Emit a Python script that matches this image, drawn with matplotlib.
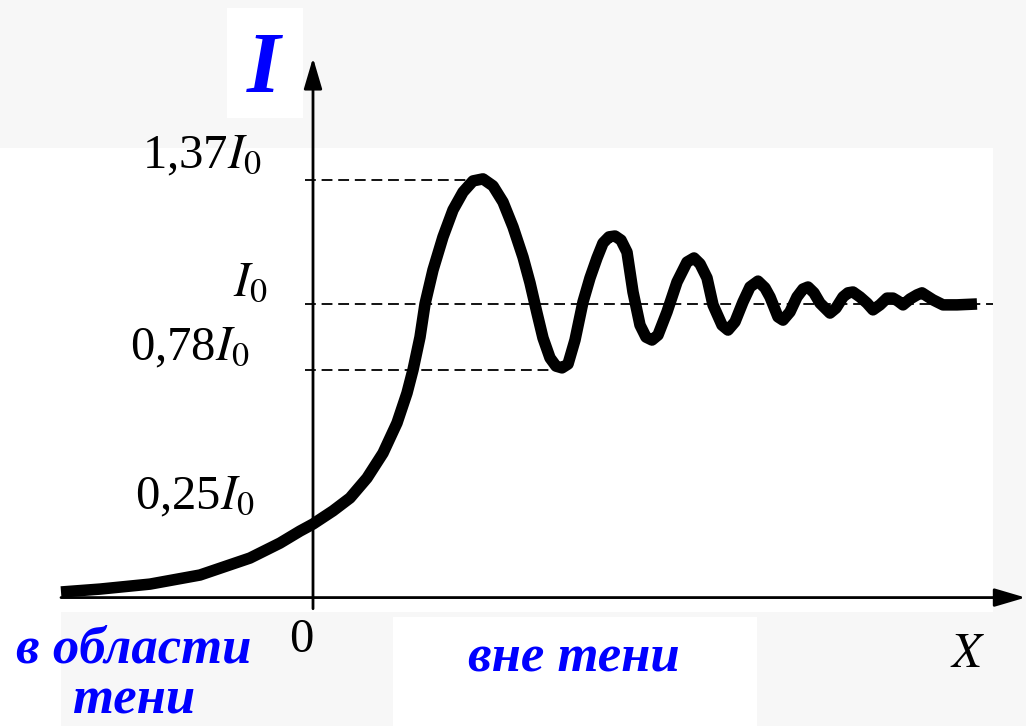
import matplotlib.pyplot as plt
from matplotlib.patches import Rectangle

# intensity behind a straight edge
# x in arbitrary units (0 = edge of geometric shadow), I in units of I0
x = [-2.52, -2.13, -1.63, -1.13, -0.63, -0.33, -0.13, 0.00, 0.20, 0.37, 0.54, 0.70,
     0.84, 0.94, 1.00, 1.07, 1.12, 1.20, 1.30, 1.40, 1.50, 1.60, 1.70, 1.80, 1.90,
     2.00, 2.10, 2.17, 2.24, 2.30, 2.37, 2.43, 2.49, 2.55, 2.62, 2.70, 2.77, 2.84,
     2.90, 2.96, 3.02, 3.08, 3.14, 3.20, 3.27, 3.33, 3.39, 3.45, 3.54, 3.64, 3.74,
     3.81, 3.87, 3.94, 4.00, 4.09, 4.15, 4.22, 4.30, 4.37, 4.45, 4.52, 4.57, 4.65,
     4.70, 4.77, 4.84, 4.90, 4.95, 5.01, 5.07, 5.17, 5.23, 5.30, 5.35, 5.40, 5.47,
     5.54, 5.60, 5.67, 5.74, 5.80, 5.85, 5.90, 5.97, 6.04, 6.09, 6.14, 6.20, 6.30,
     6.44, 6.64]
I = [0.017, 0.027, 0.044, 0.075, 0.133, 0.184, 0.225, 0.249, 0.294, 0.338, 0.406, 0.491,
     0.594, 0.696, 0.775, 0.887, 1.000, 1.116, 1.229, 1.321, 1.382, 1.420, 1.427, 1.403, 1.348,
     1.263, 1.160, 1.072, 0.969, 0.884, 0.816, 0.788, 0.782, 0.795, 0.877, 1.007, 1.089, 1.157,
     1.208, 1.229, 1.232, 1.218, 1.177, 1.041, 0.928, 0.887, 0.877, 0.894, 0.973, 1.075, 1.143,
     1.157, 1.137, 1.089, 0.997, 0.928, 0.911, 0.939, 1.007, 1.058, 1.078, 1.055, 1.024, 0.956,
     0.945, 0.973, 1.024, 1.051, 1.058, 1.038, 1.003, 0.969, 0.986, 1.024, 1.038, 1.041, 1.024,
     1.003, 0.980, 0.997, 1.020, 1.020, 1.010, 0.997, 1.017, 1.031, 1.038, 1.027, 1.014, 0.997,
     0.997, 1.000]

# reference levels: where they sit on the drawing, what they are called
levels = [1.423, 1.000, 0.775]
level_ends = [1.55, 6.80, 2.40]
level_labels = ['1,37', '', '0,78']
low_level, low_label = 0.249, '0,25'

plt.rcParams['font.family'] = ['Liberation Serif', 'DejaVu Serif']
plt.rcParams['mathtext.fontset'] = 'stix'

W, H = 1026, 726
fig = plt.figure(figsize=(W / 100, H / 100), dpi=100, facecolor='#f7f7f7')
ax = fig.add_axes([0, 0, 1, 1])
ax.set_xlim(-3.13, 7.13)
ax.set_ylim(-0.4403, 2.0375)
ax.axis('off')


def box(x0, y0, x1, y1):
    # white panels of the slide, given in pixels from top-left
    ax.add_patch(Rectangle((x0 / W, 1 - y1 / H), (x1 - x0) / W, (y1 - y0) / H,
                           transform=ax.transAxes, facecolor='white', edgecolor='none', zorder=0))


box(0, 148, 993, 612)
box(227, 8, 303, 118)
box(0, 612, 61, 726)
box(393, 617, 757, 726)

# axes with arrows
arrow = dict(arrowstyle='-|>,head_length=0.95,head_width=0.28', mutation_scale=20,
             lw=2, color='black', shrinkA=0, shrinkB=0)
ax.annotate('', xy=(7.125, -0.002), xytext=(-2.52, -0.002), arrowprops=arrow, annotation_clip=False)
ax.annotate('', xy=(0, 1.84), xytext=(0, -0.04), arrowprops=arrow, annotation_clip=False)

# dashed guides
for lev, xe, lab in zip(levels, level_ends, level_labels):
    ax.plot([-0.08, xe], [lev, lev], color='black', lw=1.3, dashes=(6, 3.2), zorder=2)

ax.plot(x, I, color='black', lw=8.3, solid_joinstyle='round', solid_capstyle='butt', zorder=3)

# level labels
fs = 35
ax.text(-0.51, levels[0] + 0.04, level_labels[0] + '$I_0$', fontsize=fs, ha='right', va='baseline')
ax.text(-0.45, levels[1] + 0.03, '$I_0$', fontsize=fs, ha='right', va='baseline')
ax.text(-0.63, levels[2] + 0.033, level_labels[2] + '$I_0$', fontsize=fs, ha='right', va='baseline')
ax.text(-0.58, low_level + 0.05, low_label + '$I_0$', fontsize=fs, ha='right', va='baseline')
ax.text(-0.12, -0.188, '0', fontsize=fs, ha='center', va='baseline')
ax.text(6.55, -0.239, '$X$', fontsize=fs, ha='center', va='baseline')

# blue captions
blue = dict(color='#0000ff', fontweight='bold', fontstyle='italic', fontsize=38)
ax.text(-0.49, 1.725, 'I', ha='center', va='baseline', **dict(blue, fontsize=62))
ax.text(-1.79, -0.222, 'в области', ha='center', va='baseline', **blue)
ax.text(-1.79, -0.396, 'тени', ha='center', va='baseline', **blue)
ax.text(2.61, -0.256, 'вне тени', ha='center', va='baseline', **blue)

plt.savefig('out.png', dpi=100, facecolor=fig.get_facecolor())
